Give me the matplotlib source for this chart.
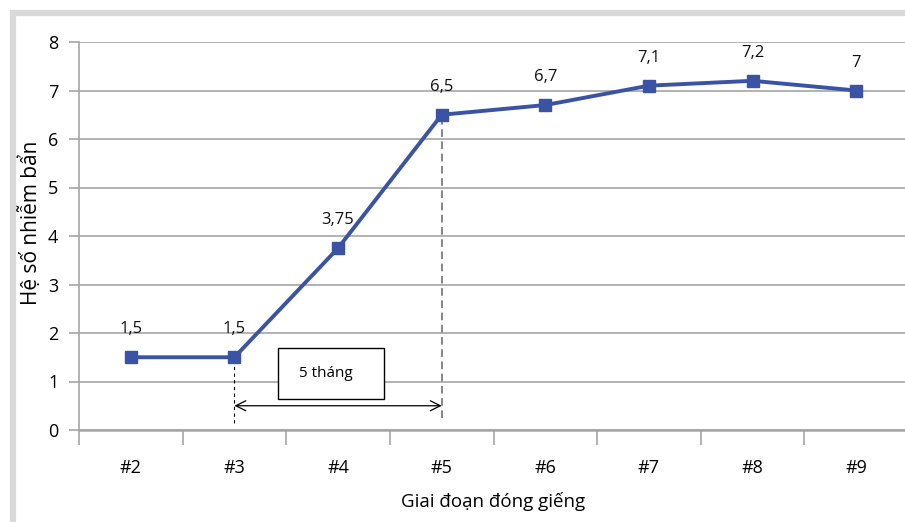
import matplotlib
matplotlib.use("Agg")
import matplotlib.pyplot as plt
from matplotlib.patches import Rectangle
import numpy as np

plt.rcParams['font.family'] = ['Open Sans', 'DejaVu Sans']

categories = ["#2", "#3", "#4", "#5", "#6", "#7", "#8", "#9"]
values = [1.5, 1.5, 3.75, 6.5, 6.7, 7.1, 7.2, 7.0]
value_labels = ["1,5", "1,5", "3,75", "6,5", "6,7", "7,1", "7,2", "7"]
y_ticks = [0, 1, 2, 3, 4, 5, 6, 7, 8]

W, H = 905, 522
fig = plt.figure(figsize=(W / 100, H / 100), dpi=100)

# light grey frame around the figure
frame = Rectangle((13 / W, -0.05), 1.2, 1 - 13 / H + 0.05, transform=fig.transFigure,
                  fill=False, edgecolor="#d9d9d9", linewidth=4.5, zorder=0)
fig.patches.append(frame)

left, right = 79 / W, 908 / W
bottom, top = 1 - 430 / H, 1 - 42 / H
ax = fig.add_axes([left, bottom, right - left, top - bottom])

x = np.arange(len(categories))
color = "#3a53a4"
grid_c = "#a6a6a6"

ax.set_xlim(-0.5, len(categories) - 0.5)
ax.set_ylim(0, 8)

ax.set_yticks(y_ticks)
ax.set_yticklabels([str(v) for v in y_ticks], fontsize=13)
ax.yaxis.grid(True, color=grid_c, linewidth=1.2)
ax.set_axisbelow(True)

ax.set_xticks(x)
ax.set_xticklabels(categories, fontsize=13)
ax.set_xticks(np.arange(-0.5, len(categories)), minor=True)
ax.tick_params(axis="x", which="major", length=0, pad=21)
ax.tick_params(axis="x", which="minor", length=11, color=grid_c, width=1.2)
ax.tick_params(axis="y", length=7, color=grid_c, width=1.2, pad=8)

for s in ["top", "right"]:
    ax.spines[s].set_visible(False)
ax.spines["left"].set_color(grid_c)
ax.spines["left"].set_linewidth(1.2)
ax.spines["bottom"].set_color(grid_c)
ax.spines["bottom"].set_linewidth(1.8)

ax.plot(x, values, color=color, linewidth=2.8, marker="s", markersize=8,
        zorder=5, clip_on=False)

for xi, v, lab in zip(x, values, value_labels):
    ax.annotate(lab, (xi, v), xytext=(0, 20), textcoords="offset points",
                ha="center", va="center", fontsize=12, color="#111111")

# interval markers between #3 and #5
i3, i5 = categories.index("#3"), categories.index("#5")
ax.plot([i3, i3], [0.15, values[i3]], color="black", linewidth=0.8,
        linestyle=(0, (3, 3)), zorder=4)
ax.plot([i5, i5], [0.25, values[i5]], color="#666666", linewidth=1.1,
        linestyle=(0, (5, 3)), zorder=4)
ax.annotate("", xy=(i5, 0.5), xytext=(i3, 0.5),
            arrowprops=dict(arrowstyle="<->", color="black", linewidth=0.9,
                            mutation_scale=18, shrinkA=0, shrinkB=0))
ax.add_patch(Rectangle((1.42, 0.64), 1.02, 1.05, facecolor="white",
                       edgecolor="black", linewidth=1.0, zorder=6))
ax.text(1.88, 1.165, "5 tháng", ha="center", va="center", fontsize=11, zorder=7)

ax.set_ylabel("Hệ số nhiễm bẩn", fontsize=15)
ax.yaxis.set_label_coords(-37 / 829, 0.535)
ax.set_xlabel("Giai đoạn đóng giếng", fontsize=13.5, labelpad=11)

fig.savefig("out.png", dpi=100)
